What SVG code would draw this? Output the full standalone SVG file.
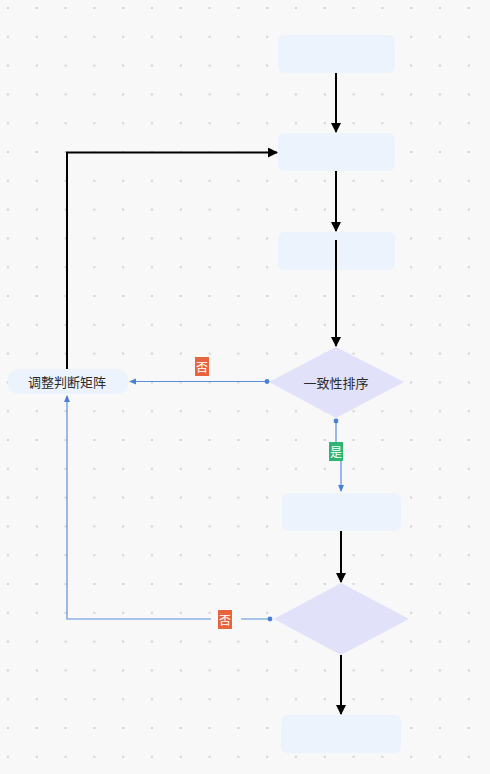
<svg xmlns="http://www.w3.org/2000/svg" width="490" height="774" viewBox="0 0 490 774">
<defs>
<pattern id="dots" x="8" y="8" width="28.8" height="28.8" patternUnits="userSpaceOnUse">
<circle cx="0" cy="0" r="1.1" fill="#c9c9cc"/>
<circle cx="28.8" cy="0" r="1.1" fill="#c9c9cc"/>
<circle cx="0" cy="28.8" r="1.1" fill="#c9c9cc"/>
<circle cx="28.8" cy="28.8" r="1.1" fill="#c9c9cc"/>
</pattern>
<marker id="ab" markerWidth="10" markerHeight="10" refX="9" refY="5" orient="auto" markerUnits="userSpaceOnUse">
<path d="M0,0 L10,5 L0,10 Z" fill="#000"/>
</marker>
<marker id="au" markerWidth="7" markerHeight="7" refX="6" refY="3.5" orient="auto" markerUnits="userSpaceOnUse">
<path d="M0,0.5 L7,3.5 L0,6.5 Z" fill="#4a7fd6"/>
</marker>
<marker id="dt" markerWidth="6" markerHeight="6" refX="3" refY="3" orient="auto" markerUnits="userSpaceOnUse">
<circle cx="3" cy="3" r="2.4" fill="#4a7fd6"/>
</marker>
</defs>
<style>
.box{fill:#edf3fd;}
.dia{fill:#e1e1f9;}
.blk{stroke:#000;stroke-width:2;fill:none;marker-end:url(#ab);}
.blu{stroke:#5b8fdb;stroke-width:1.2;fill:none;marker-end:url(#au);marker-start:url(#dt);}
.t{font-family:"Noto Sans CJK SC","Noto Sans",sans-serif;font-size:13px;fill:#2b2b2b;text-anchor:middle;dominant-baseline:central;}
.lt{font-family:"Noto Sans CJK SC","Noto Sans",sans-serif;font-size:12px;fill:#fff;text-anchor:middle;dominant-baseline:central;}
</style>
<rect width="490" height="774" fill="#f8f8f9"/>
<rect width="490" height="774" fill="url(#dots)"/>

<g id="n1"><rect class="box" x="278" y="35" width="117" height="38" rx="6"/></g>
<g id="n2"><rect class="box" x="278" y="133" width="117" height="38" rx="6"/></g>
<g id="n3"><rect class="box" x="278" y="232" width="117" height="38" rx="6"/></g>
<g id="n4"><polygon class="dia" points="336,347 404,382 336,418 269,382"/><text class="t" x="336" y="382">一致性排序</text></g>
<g id="n5"><rect class="box" x="8" y="369" width="120" height="25" rx="10"/><text class="t" x="67" y="381.5">调整判断矩阵</text></g>
<g id="n6"><rect class="box" x="282" y="493" width="119" height="38" rx="6"/></g>
<g id="n7"><polygon class="dia" points="341,583 409,619 341,655 274,619"/></g>
<g id="n8"><rect class="box" x="281" y="715" width="120" height="38" rx="6"/></g>

<g id="connectors">
<path class="blk" d="M336,73 V132"/>
<path class="blk" d="M336,171 V231"/>
<path class="blk" d="M336,240 V346"/>
<path class="blk" d="M67,369 V152.5 H277"/>
<path class="blk" d="M341,531 V582"/>
<path class="blk" d="M341,655 V714"/>
<path class="blu" d="M267,381.5 H130"/>
<path class="blu" d="M336,421 V452 H341 V491"/>
<path class="blu" d="M270,619 H67 V396"/>
<rect x="195" y="357" width="14" height="19" fill="#e8643f"/>
<text class="lt" x="202" y="366.5">否</text>
<rect x="329" y="442" width="14" height="19" fill="#2fb473"/>
<text class="lt" x="336" y="451.5">是</text>
<rect x="211" y="609" width="30" height="20" fill="#f8f8f9"/>
<rect x="218" y="610" width="14" height="19" fill="#e8643f"/>
<text class="lt" x="225" y="619.5">否</text>
</g>
</svg>
